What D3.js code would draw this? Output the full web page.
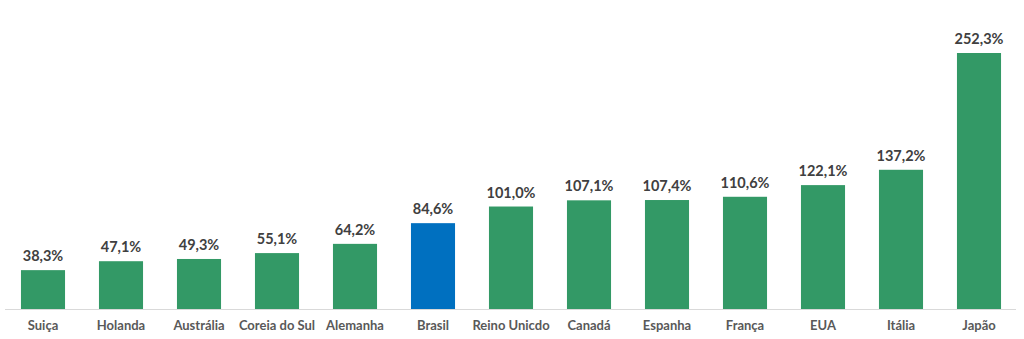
<!DOCTYPE html>
<html><head><meta charset="utf-8">
<script src="https://cdn.jsdelivr.net/npm/d3@7"></script>
<style>html,body{margin:0;padding:0;background:#fff;}</style>
</head><body>
<svg id="c" width="1024" height="339"></svg>
<script>
const categories = ["Suiça","Holanda","Austrália","Coreia do Sul","Alemanha","Brasil","Reino Unicdo","Canadá","Espanha","França","EUA","Itália","Japão"];
const values = [38.3,47.1,49.3,55.1,64.2,84.6,101.0,107.1,107.4,110.6,122.1,137.2,252.3];
const highlight = "Brasil";

const svg = d3.select("#c");
const x = d3.scaleBand().domain(categories).range([4,1018]).paddingInner(0.435).paddingOuter(0.2175);
const y = d3.scaleLinear().domain([0,252.3]).range([309,53]);
const fmt = v => v.toFixed(1).replace(".", ",") + "%";

svg.append("line").attr("x1",5).attr("x2",1016).attr("y1",y(0)+0.5).attr("y2",y(0)+0.5)
  .attr("stroke","#d9d9d9").attr("stroke-width",1);

svg.selectAll("rect.bar").data(values).join("rect")
  .attr("x",(d,i)=>x(categories[i])).attr("width",x.bandwidth())
  .attr("y",d=>y(d)).attr("height",d=>y(0)-y(d))
  .attr("fill",(d,i)=>categories[i]===highlight?"#0070C0":"#339966");

svg.selectAll("text.val").data(values).join("text")
  .attr("x",(d,i)=>x(categories[i])+x.bandwidth()/2).attr("y",d=>y(d)-9)
  .attr("text-anchor","middle").attr("font-family","Lato, 'Open Sans', sans-serif")
  .attr("font-weight","bold").attr("font-size",14.5).attr("fill","#404040").text(fmt);

const xa = svg.append("g").attr("transform",`translate(0,${y(0)})`).call(d3.axisBottom(x).tickSize(0).tickPadding(12));
xa.select(".domain").remove();
xa.selectAll("text").attr("font-family","Lato, 'Open Sans', sans-serif").attr("font-weight","bold")
  .attr("font-size",13).attr("fill","#595959");
</script>
</body></html>
